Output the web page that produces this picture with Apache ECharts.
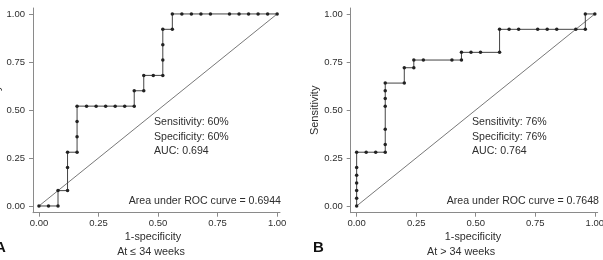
<!DOCTYPE html>
<html>
<head>
<meta charset="utf-8">
<script src="https://cdn.jsdelivr.net/npm/echarts@6/dist/echarts.min.js"></script>
<style>html,body{margin:0;padding:0;background:#fff}#c{width:603px;height:260px}</style>
</head>
<body>
<div id="c"></div>
<script>
// ---- data ----
const tickValues = [0, 0.25, 0.5, 0.75, 1];
const leftFpr  = [0,0.04,0.08,0.08,0.12,0.12,0.12,0.16,0.16,0.16,0.16,0.20,0.24,0.28,0.32,0.36,0.40,0.40,0.44,0.44,0.48,0.52,0.52,0.52,0.52,0.56,0.56,0.60,0.64,0.68,0.72,0.80,0.84,0.88,0.92,0.96,1.00];
const leftSens = [0,0,0,0.08,0.08,0.20,0.28,0.28,0.36,0.44,0.52,0.52,0.52,0.52,0.52,0.52,0.52,0.60,0.60,0.68,0.68,0.68,0.76,0.84,0.92,0.92,1,1,1,1,1,1,1,1,1,1,1];
const rightFpr  = [0,0,0,0,0,0,0,0.04,0.08,0.12,0.12,0.12,0.12,0.12,0.12,0.12,0.20,0.20,0.24,0.24,0.28,0.40,0.44,0.44,0.48,0.52,0.60,0.60,0.64,0.68,0.76,0.80,0.84,0.92,0.96,0.96,1];
const rightSens = [0,0.04,0.08,0.12,0.16,0.20,0.28,0.28,0.28,0.28,0.32,0.40,0.52,0.56,0.60,0.64,0.64,0.72,0.72,0.76,0.76,0.76,0.76,0.80,0.80,0.80,0.80,0.92,0.92,0.92,0.92,0.92,0.92,0.92,0.92,1,1];
const refLine = [[0,0],[1,1]];
const leftStats  = ['Sensitivity: 60%', 'Specificity: 60%', 'AUC: 0.694'];
const rightStats = ['Sensitivity: 76%', 'Specificity: 76%', 'AUC: 0.764'];
const leftArea  = 'Area under ROC curve = 0.6944';
const rightArea = 'Area under ROC curve = 0.7648';
const xTitle = '1-specificity';
const yTitle = 'Sensitivity';
const leftSub  = 'At \u2264 34 weeks';
const rightSub = 'At > 34 weeks';

// ---- styles ----
const FONT = '"Liberation Sans",Arial,sans-serif';
const TXT = '#2e2e2e';
const AX = '#8a8a8a';
const fmt = v => v.toFixed(2);

function mkX(gi) {
  return {
    type: 'value', gridIndex: gi, min: -0.025, max: 1.012,
    splitLine: {show: false},
    axisLine: {show: true, onZero: false, lineStyle: {color: AX, width: 1}},
    axisTick: {show: true, length: 4, lineStyle: {color: AX}, customValues: tickValues},
    axisLabel: {show: true, margin: 6, color: TXT, fontFamily: FONT, fontSize: 9.5, formatter: fmt, customValues: tickValues}
  };
}
function mkY(gi) {
  return {
    type: 'value', gridIndex: gi, min: -0.035, max: 1.031,
    splitLine: {show: false},
    axisLine: {show: true, onZero: false, lineStyle: {color: AX, width: 1}},
    axisTick: {show: true, length: 4, lineStyle: {color: AX}, customValues: tickValues},
    axisLabel: {show: true, margin: 8, color: TXT, fontFamily: FONT, fontSize: 9.5, formatter: fmt, customValues: tickValues},
    name: yTitle, nameLocation: 'middle', nameGap: 22,
    nameTextStyle: {color: TXT, fontFamily: FONT, fontSize: 11}
  };
}
function zip(a, b) { return a.map((v, i) => [v, b[i]]); }
function rocSeries(gi, fpr, sens) {
  return {
    type: 'line', xAxisIndex: gi, yAxisIndex: gi, data: zip(fpr, sens),
    symbol: 'circle', symbolSize: 3.5, showSymbol: true,
    itemStyle: {color: '#222'}, lineStyle: {color: '#444', width: 1},
    animation: false, z: 3
  };
}
function diagSeries(gi) {
  return {
    type: 'line', xAxisIndex: gi, yAxisIndex: gi, data: refLine,
    symbol: 'none', lineStyle: {color: '#555', width: 0.8}, animation: false, z: 2
  };
}
function txt(x, y, s, opts) {
  return {
    type: 'text', x: x, y: y,
    style: Object.assign({text: s, fill: TXT, font: '10.6px ' + FONT, textVerticalAlign: 'middle'}, opts || {})
  };
}

const graphics = [];
leftStats.forEach((s, i) => graphics.push(txt(154, 122 + i * 14.7, s)));
rightStats.forEach((s, i) => graphics.push(txt(472, 122 + i * 14.7, s)));
graphics.push(txt(281, 201, leftArea, {textAlign: 'right'}));
graphics.push(txt(599, 201, rightArea, {textAlign: 'right'}));
graphics.push(txt(153, 237, xTitle, {textAlign: 'center', font: '10.8px ' + FONT}));
graphics.push(txt(473, 237, xTitle, {textAlign: 'center', font: '10.8px ' + FONT}));
graphics.push(txt(151, 252, leftSub, {textAlign: 'center', font: '10.8px ' + FONT}));
graphics.push(txt(461, 252, rightSub, {textAlign: 'center', font: '10.8px ' + FONT}));
graphics.push(txt(-5, 248, 'A', {font: 'bold 15px "Liberation Sans", Arial, sans-serif', fill: '#111'}));
graphics.push(txt(313, 248, 'B', {font: 'bold 15px "Liberation Sans", Arial, sans-serif', fill: '#111'}));

const chart = echarts.init(document.getElementById('c'), null, {renderer: 'canvas'});
chart.setOption({
  animation: false,
  backgroundColor: '#fff',
  grid: [
    {left: 33, top: 8, width: 247, height: 204.7, outerBoundsMode: 'none', containLabel: false},
    {left: 350.7, top: 8, width: 247, height: 204.7, outerBoundsMode: 'none', containLabel: false}
  ],
  xAxis: [mkX(0), mkX(1)],
  yAxis: [mkY(0), mkY(1)],
  series: [diagSeries(0), rocSeries(0, leftFpr, leftSens), diagSeries(1), rocSeries(1, rightFpr, rightSens)],
  graphic: graphics
});
</script>
</body>
</html>
